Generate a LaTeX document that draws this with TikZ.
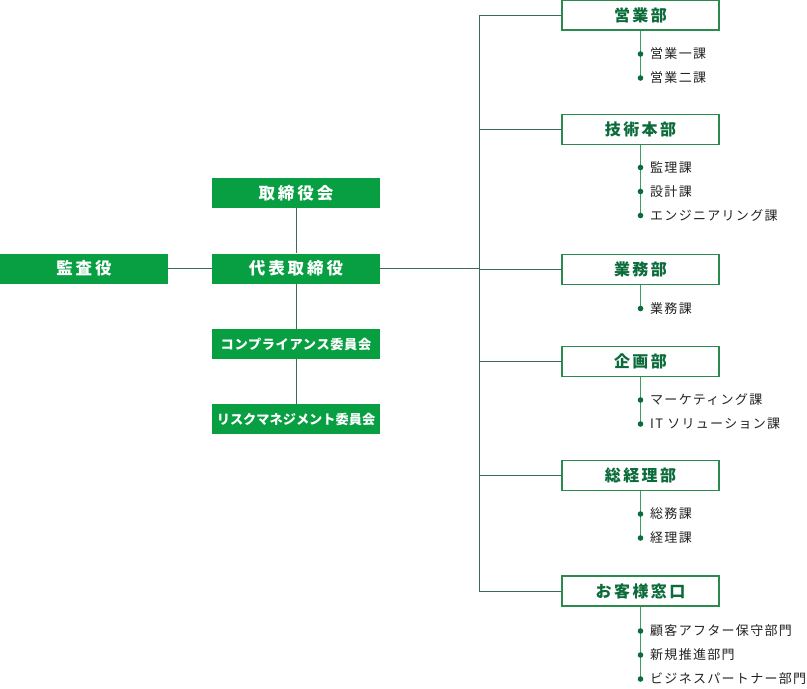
\documentclass[tikz,border=0pt]{standalone}
\usepackage{fontspec}
\usepackage{xcolor}
\newfontfamily\jpfont{Noto Sans CJK JP}
\newfontfamily\jpitem{Noto Sans CJK JP}[LetterSpace=10]
\newfontfamily\jpdept{Noto Sans CJK JP}[LetterSpace=15]
\newfontfamily\jptop{Noto Sans CJK JP}[LetterSpace=18]
\newfontfamily\jpcomp{Noto Sans CJK JP}[LetterSpace=5]
\definecolor{topgreen}{HTML}{079F42}
\definecolor{deptgreen}{HTML}{0B6B3A}
\definecolor{framegreen}{HTML}{2B8A4E}
\definecolor{linegreen}{HTML}{3D6B55}
\definecolor{subgreen}{HTML}{3AA060}
\definecolor{itemtext}{HTML}{222222}

\tikzset{
	topbox/.style={fill=topgreen, draw=none, text=white, minimum width=168pt,
		minimum height=30pt, inner sep=0pt, font=\jptop\bfseries\fontsize{16.5}{16.5}\selectfont},
	smallbox/.style={topbox, font=\jpfont\bfseries\fontsize{13.2}{13.2}\selectfont},
	deptbox/.style={fill=white, draw=framegreen, line width=1.2pt, text=deptgreen,
		minimum width=157pt, minimum height=30pt, inner sep=0pt,
		font=\jpdept\bfseries\fontsize{16}{16}\selectfont},
	item/.style={anchor=west, inner sep=0pt, text=itemtext,
		font=\jpitem\fontsize{13}{13}\selectfont},
	conn/.style={draw=linegreen, line width=0.9pt},
	subline/.style={draw=subgreen, line width=1.2pt},
	dot/.style={fill=deptgreen}
}

\begin{document}
\begin{tikzpicture}[x=1pt,y=-1pt]
	\useasboundingbox (0,0) rectangle (807,689);
	% left side
	\node[topbox] (kansa) at (84,268.5) {監査役};
	\node[topbox] (daihyo) at (296,268.5) {代表取締役};
	\node[topbox] (torishimari) at (296,193) {取締役会};
	\node[smallbox, font=\jpcomp\bfseries\fontsize{13.2}{13.2}\selectfont] (comp) at (296,344) {コンプライアンス委員会};
	\node[smallbox] (risk) at (296,419) {リスクマネジメント委員会};
	\draw[conn] (kansa) -- (daihyo);
	\draw[conn] (torishimari) -- (daihyo);
	\draw[conn] (daihyo) -- (comp);
	\draw[conn] (comp) -- (risk);
	% departments
	\node[deptbox] (eigyo) at (640.5,15) {営業部};
	\node[deptbox] (gijutsu) at (640.5,129.5) {技術本部};
	\node[deptbox] (gyomu) at (640.5,269.5) {業務部};
	\node[deptbox] (kikaku) at (640.5,361.5) {企画部};
	\node[deptbox] (sokeiri) at (640.5,475.5) {総経理部};
	\node[deptbox] (kyaku) at (640.5,591) {お客様窓口};
	\coordinate (trunktop) at (479.5,15);
	\coordinate (trunkbot) at (479.5,591);
	\coordinate (trunkmid) at (479.5,268.5);
	\draw[conn] (daihyo.east) -- (trunkmid);
	\draw[conn] (eigyo.west) -- (trunktop) -- (trunkbot) -- (kyaku.west);
	\draw[conn] (gijutsu.west) -- (gijutsu.west -| trunktop);
	\draw[conn] (gyomu.west) -- (gyomu.west -| trunktop);
	\draw[conn] (kikaku.west) -- (kikaku.west -| trunktop);
	\draw[conn] (sokeiri.west) -- (sokeiri.west -| trunktop);
	% sections
	\coordinate (d11) at (640.5,54);
	\coordinate (d12) at (640.5,78);
	\node[item] (s11) at (650,54) {営業一課};
	\node[item] (s12) at (650,78) {営業二課};
	\draw[subline] (eigyo.south) -- (d12);
	\coordinate (d21) at (640.5,167.5);
	\coordinate (d22) at (640.5,191.5);
	\coordinate (d23) at (640.5,215.5);
	\node[item] (s21) at (650,167.5) {監理課};
	\node[item] (s22) at (650,191.5) {設計課};
	\node[item] (s23) at (650,215.5) {エンジニアリング課};
	\draw[subline] (gijutsu.south) -- (d23);
	\coordinate (d31) at (640.5,308.5);
	\node[item] (s31) at (650,308.5) {業務課};
	\draw[subline] (gyomu.south) -- (d31);
	\coordinate (d41) at (640.5,400);
	\coordinate (d42) at (640.5,424);
	\node[item] (s41) at (650,400) {マーケティング課};
	\node[item] (s42) at (650,424) {IT ソリューション課};
	\draw[subline] (kikaku.south) -- (d42);
	\coordinate (d51) at (640.5,514);
	\coordinate (d52) at (640.5,538);
	\node[item] (s51) at (650,514) {総務課};
	\node[item] (s52) at (650,538) {経理課};
	\draw[subline] (sokeiri.south) -- (d52);
	\coordinate (d61) at (640.5,631);
	\coordinate (d62) at (640.5,655);
	\coordinate (d63) at (640.5,679);
	\node[item] (s61) at (650,631) {顧客アフター保守部門};
	\node[item] (s62) at (650,655) {新規推進部門};
	\node[item] (s63) at (650,679) {ビジネスパートナー部門};
	\draw[subline] (kyaku.south) -- (d63);
	\foreach \d in {d11,d12,d21,d22,d23,d31,d41,d42,d51,d52,d61,d62,d63}
		\fill[dot] (\d) circle (2.8);
\end{tikzpicture}
\end{document}
